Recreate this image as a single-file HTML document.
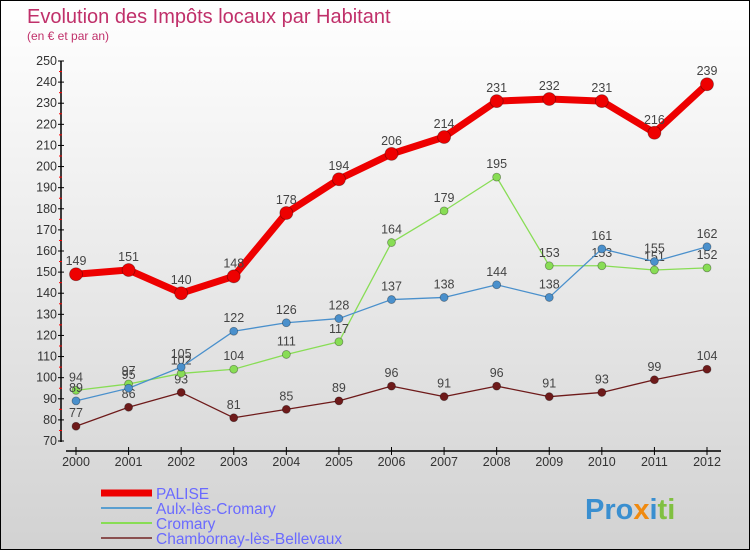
<!DOCTYPE html>
<html><head><meta charset="utf-8"><style>
body{margin:0}
#c{width:748px;height:548px;border:1px solid #000;background:linear-gradient(#fff,#f2f2f2 30%,#d2d2d2);position:relative;font-family:"Liberation Sans","DejaVu Sans",sans-serif}
</style></head><body>
<div id="c">
<svg id="s" width="748" height="548" xmlns="http://www.w3.org/2000/svg">
<text x="26" y="22" font-size="20" fill="#c0306a">Evolution des Impôts locaux par Habitant</text>
<text x="26" y="39" font-size="12" fill="#c0306a">(en € et par an)</text>
<text x="584" y="518" font-size="29" font-weight="bold" fill="#3a8fd0">Pro<tspan fill="#f08a10">x</tspan><tspan fill="#3a8fd0">i</tspan><tspan fill="#80c040">ti</tspan></text>
</svg>
</div>
<script>
const years=[2000,2001,2002,2003,2004,2005,2006,2007,2008,2009,2010,2011,2012];
const yTicks=[70,80,90,100,110,120,130,140,150,160,170,180,190,200,210,220,230,240,250];
const palise=[149,151,140,148,178,194,206,214,231,232,231,216,239];
const aulx=[89,95,105,122,126,128,137,138,144,138,161,155,162];
const cromary=[94,97,102,104,111,117,164,179,195,153,153,151,152];
const chambornay=[77,86,93,81,85,89,96,91,96,91,93,99,104];
const NS="http://www.w3.org/2000/svg";
const s=document.getElementById('s');
function X(i){return 75+i*(706-75)/12;}
function Y(v){return 440-(v-70)*(380/180);}
function el(t,a,p){const e=document.createElementNS(NS,t);for(const k in a)e.setAttribute(k,a[k]);(p||s).appendChild(e);return e;}
let ax=el('line',{x1:60,y1:60,x2:60,y2:441,stroke:'#000','stroke-width':1.5});


yTicks.forEach((v,i)=>{
  el('line',{x1:57,x2:63,y1:Y(v),y2:Y(v),stroke:'#000'});
  if(i<yTicks.length-1){el('line',{x1:58,x2:61,y1:Y(v+5),y2:Y(v+5),stroke:'#f00'});}
  const t=el('text',{x:56,y:Y(v)+4,'text-anchor':'end','font-size':12.5,fill:'#333'});
  t.textContent=v;
  
  
});
let xa=el('line',{x1:65,y1:450,x2:720,y2:450,stroke:'#000','stroke-width':1.5});


years.forEach((y,i)=>{
  el('line',{x1:X(i),x2:X(i),y1:446,y2:454,stroke:'#000'});
  const t=el('text',{x:X(i),y:465,'text-anchor':'middle','font-size':12.5,fill:'#333'});
  t.textContent=y;
  
  
});
function series(d,col,w,r,name){
  const g=el('g',{});
  
  
  el('polyline',{points:d.map((v,i)=>X(i)+','+Y(v)).join(' '),fill:'none',stroke:col,'stroke-width':w,'stroke-linejoin':'round'},g);
  d.forEach((v,i)=>{
    const c=el('circle',{cx:X(i),cy:Y(v),r:r,fill:col,stroke:'rgba(0,0,0,0.35)','stroke-width':0.8},g);
    
    
    const t=el('text',{x:X(i),y:Y(v)-9,'text-anchor':'middle','font-size':12.5,fill:'#444'},g);
    t.textContent=v;
    
    
  });
}
series(chambornay,'#6e1a1a',1.3,4,'chambornay');
series(cromary,'#88dd55',1.3,4,'cromary');
series(aulx,'#4a90cc',1.3,4,'aulx');
series(palise,'#ee0000',7,6.5,'palise');
const leg=[['PALISE','#ee0000',7],['Aulx-lès-Cromary','#5a9fd0',2],['Cromary','#88dd55',2],['Chambornay-lès-Bellevaux','#8a5050',2]];
leg.forEach((l,i)=>{
  const y=492+i*15;
  const ln=el('line',{x1:100,x2:151,y1:y,y2:y,stroke:l[1],'stroke-width':l[2]});
  
  
  const t=el('text',{x:155,y:y+6,'font-size':15.5,fill:'#6a6aff'});
  t.textContent=l[0];
  
  
});
</script>
</body></html>
